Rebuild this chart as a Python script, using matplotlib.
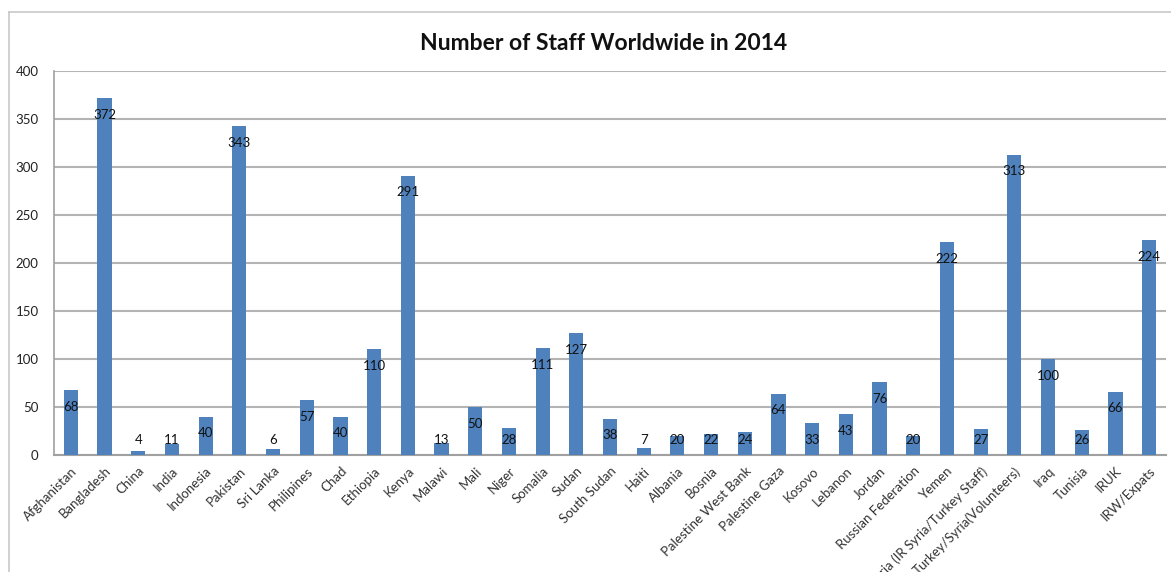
import matplotlib.pyplot as plt
from matplotlib.lines import Line2D

countries = ['Afghanistan', 'Bangladesh', 'China', 'India', 'Indonesia', 'Pakistan',
             'Sri Lanka', 'Philipines', 'Chad', 'Ethiopia', 'Kenya', 'Malawi', 'Mali',
             'Niger', 'Somalia', 'Sudan', 'South Sudan', 'Haiti', 'Albania', 'Bosnia',
             'Palestine West Bank', 'Palestine Gaza', 'Kosovo', 'Lebanon', 'Jordan',
             'Russian Federation', 'Yemen', 'Syria (IR Syria/Turkey Staff)',
             'Turkey/Syria(Volunteers)', 'Iraq', 'Tunisia', 'IRUK', 'IRW/Expats']
staff = [68, 372, 4, 11, 40, 343, 6, 57, 40, 110, 291, 13, 50, 28, 111, 127, 38,
         7, 20, 22, 24, 64, 33, 43, 76, 20, 222, 27, 313, 100, 26, 66, 224]
yticks = [0, 50, 100, 150, 200, 250, 300, 350, 400]

plt.rcParams['font.family'] = ['Lato', 'DejaVu Sans']

fig = plt.figure(figsize=(11.71, 5.72), dpi=100)
ax = fig.add_axes([54 / 1171, 1 - 455 / 572, 1112 / 1171, 384 / 572])

# chart area frame (cut off by the screenshot on the right and bottom)
W, H = 1171, 572
fig.add_artist(Line2D([9 / W, 9 / W], [0, 1 - 12 / H], transform=fig.transFigure,
                      color='#c8c8c8', lw=1.2))
fig.add_artist(Line2D([9 / W, 1], [1 - 12 / H, 1 - 12 / H], transform=fig.transFigure,
                      color='#c8c8c8', lw=1.2))

x = range(len(countries))
ax.bar(x, staff, width=0.42, color='#4F81BD', zorder=3)

for i, v in enumerate(staff):
    ax.text(i, max(v - 17.5, 15.5), str(v), ha='center', va='center',
            fontsize=9.5, color='#111111', zorder=4)

ax.set_xlim(-0.5, len(countries) - 0.5)
ax.set_ylim(0, 400)
ax.set_yticks(yticks)
ax.set_yticklabels([str(t) for t in yticks], fontsize=9.5, color='#222222')
ax.yaxis.grid(True, color='#b4b4b4', lw=1.5, zorder=0)
ax.set_xticks(list(x))
ax.set_xticklabels(countries, rotation=45, ha='right', rotation_mode='anchor',
                   fontsize=9.5, color='#333333')
ax.tick_params(axis='y', length=0, pad=11)
ax.tick_params(axis='x', length=0, pad=7)

for s in ['top', 'right']:
    ax.spines[s].set_visible(False)
ax.spines['left'].set_color('#a0a0a0')
ax.spines['bottom'].set_color('#a0a0a0')
ax.spines['left'].set_linewidth(1.2)
ax.spines['bottom'].set_linewidth(1.5)

fig.text(604 / W, 1 - 43 / H, 'Number of Staff Worldwide in 2014', ha='center',
         va='center', fontsize=16.5, fontweight='bold', color='#111111')

fig.savefig('out.png', dpi=100)
